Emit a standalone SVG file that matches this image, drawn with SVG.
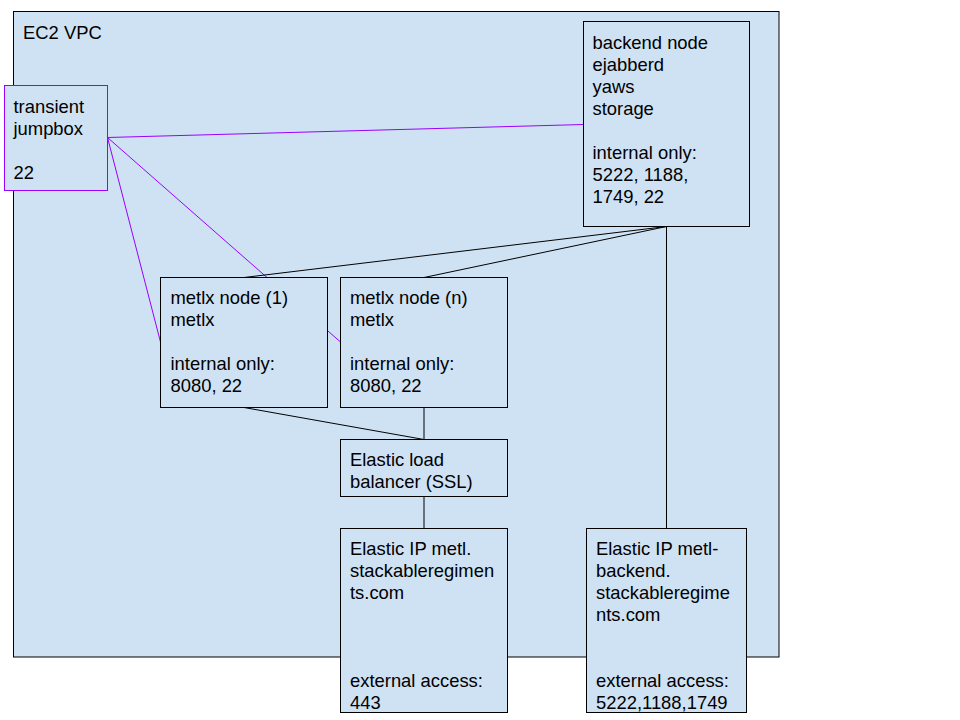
<svg xmlns="http://www.w3.org/2000/svg" width="960" height="720" viewBox="0 0 960 720">
<style>
.box{fill:#cfe2f3;stroke:#000;stroke-width:1}
.pbox{fill:#cfe2f3;stroke:#9900ff;stroke-width:1}
.t{font-family:"Liberation Sans",Arial,sans-serif;font-size:18.4px;fill:#000}
.k{stroke:#000;stroke-width:1;fill:none}
.p{stroke:#9900ff;stroke-width:1;fill:none}
</style>
<rect width="960" height="720" fill="#fff"/>
<g id="vpc">
<rect class="box" x="13.5" y="11.5" width="765.5" height="645.5"/>
<text class="t" x="23" y="39">EC2 VPC</text>
</g>
<g id="connectors">
<line class="p" x1="107.5" y1="137.5" x2="583.5" y2="124.5"/>
<line class="p" x1="107.5" y1="137.5" x2="160.5" y2="342"/>
<line class="p" x1="107.5" y1="137.5" x2="340.5" y2="342"/>
<line class="k" x1="666.5" y1="226.5" x2="244" y2="277.5"/>
<line class="k" x1="666.5" y1="226.5" x2="424" y2="277.5"/>
<line class="k" x1="666.5" y1="226.5" x2="666.5" y2="528.5"/>
<line class="k" x1="244" y1="407.5" x2="424" y2="439.5"/>
<line class="k" x1="424" y1="407.5" x2="424" y2="439.5"/>
<line class="k" x1="424" y1="496.5" x2="424" y2="528.5"/>
</g>
<g id="jumpbox">
<rect class="pbox" x="4.5" y="85.5" width="103" height="105"/>
<text class="t" x="13.5"><tspan x="13.5" y="112.5">transient</tspan><tspan x="13.5" y="134.5">jumpbox</tspan><tspan x="13.5" y="178.5">22</tspan></text>
</g>
<g id="backend">
<rect class="box" x="583.5" y="21.5" width="166" height="205"/>
<text class="t"><tspan x="592.5" y="48.5">backend node</tspan><tspan x="592.5" y="70.5">ejabberd</tspan><tspan x="592.5" y="92.5">yaws</tspan><tspan x="592.5" y="114.5">storage</tspan><tspan x="592.5" y="158.5">internal only:</tspan><tspan x="592.5" y="180.5">5222, 1188,</tspan><tspan x="592.5" y="202.5">1749, 22</tspan></text>
</g>
<g id="metlx1">
<rect class="box" x="160.5" y="277.5" width="167" height="130"/>
<text class="t"><tspan x="170.5" y="304">metlx node (1)</tspan><tspan x="170.5" y="326">metlx</tspan><tspan x="170.5" y="370">internal only:</tspan><tspan x="170.5" y="392">8080, 22</tspan></text>
</g>
<g id="metlxn">
<rect class="box" x="340.5" y="277.5" width="167" height="130"/>
<text class="t"><tspan x="350" y="304">metlx node (n)</tspan><tspan x="350" y="326">metlx</tspan><tspan x="350" y="370">internal only:</tspan><tspan x="350" y="392">8080, 22</tspan></text>
</g>
<g id="elb">
<rect class="box" x="340.5" y="439.5" width="167" height="57"/>
<text class="t"><tspan x="350" y="466">Elastic load</tspan><tspan x="350" y="488">balancer (SSL)</tspan></text>
</g>
<g id="eip1">
<rect class="box" x="340.5" y="528.5" width="167" height="184"/>
<text class="t"><tspan x="350" y="555">Elastic IP metl.</tspan><tspan x="350" y="577">stackableregimen</tspan><tspan x="350" y="599">ts.com</tspan><tspan x="350" y="687">external access:</tspan><tspan x="350" y="709">443</tspan></text>
</g>
<g id="eip2">
<rect class="box" x="586.5" y="528.5" width="160" height="184"/>
<text class="t"><tspan x="596" y="555">Elastic IP metl-</tspan><tspan x="596" y="577">backend.</tspan><tspan x="596" y="599">stackableregime</tspan><tspan x="596" y="621">nts.com</tspan><tspan x="596" y="687">external access:</tspan><tspan x="596" y="709">5222,1188,1749</tspan></text>
</g>
</svg>
